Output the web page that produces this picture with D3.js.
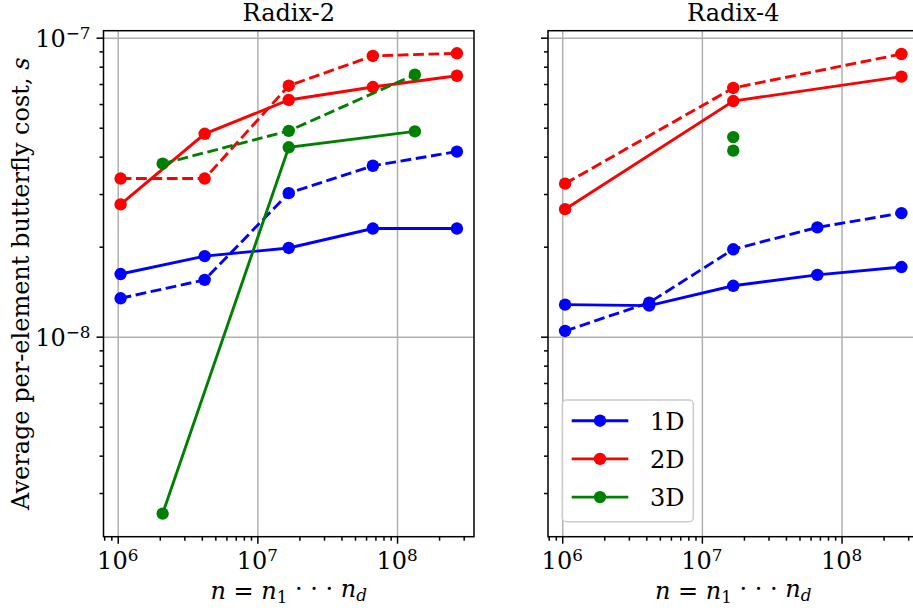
<!DOCTYPE html>
<html>
<head>
<meta charset="utf-8">
<script src="https://cdn.jsdelivr.net/npm/d3@7"></script>
<style>
  body { margin: 0; background: #fff; }
</style>
</head>
<body>
<div id="chart"></div>
<script>
// problem sizes (x axis)
var sizes = [Math.pow(2, 20), Math.pow(2, 22), Math.pow(2, 24), Math.pow(2, 26), Math.pow(2, 28)];
var sizes3d = [Math.pow(2, 21), Math.pow(2, 24), Math.pow(2, 27)];
var sizesR4 = [Math.pow(2, 20), Math.pow(2, 24), Math.pow(2, 28)];
var sizesR4_3d = [Math.pow(2, 24)];

// Radix-2 values (seconds)
var r2_1d_solid = [1.62e-8, 1.86e-8, 1.98e-8, 2.30e-8, 2.30e-8];
var r2_1d_dashed = [1.344e-8, 1.549e-8, 3.02e-8, 3.73e-8, 4.16e-8];
var r2_2d_solid = [2.77e-8, 4.77e-8, 6.19e-8, 6.84e-8, 7.46e-8];
var r2_2d_dashed = [3.38e-8, 3.38e-8, 6.91e-8, 8.69e-8, 8.87e-8];
var r2_3d_solid = [2.56e-9, 4.30e-8, 4.86e-8];
var r2_3d_dashed = [3.79e-8, 4.88e-8, 7.52e-8];

// Radix-4 values (seconds)
var r4_1d_solid = [1.28e-8, 1.27e-8, 1.48e-8, 1.61e-8, 1.71e-8];
var r4_1d_dashed = [1.045e-8, 1.30e-8, 1.96e-8, 2.32e-8, 2.59e-8];
var r4_2d_solid = [2.67e-8, 6.14e-8, 7.41e-8];
var r4_2d_dashed = [3.25e-8, 6.79e-8, 8.82e-8];
var r4_3d_solid = [4.19e-8];
var r4_3d_dashed = [4.65e-8];

var dims = ["1D", "2D", "3D"];
var colors = {"1D": "#0000ff", "2D": "#ff0000", "3D": "#008000"};

var xTickExp = [6, 7, 8];
var yTickExp = [-7, -8];

var panels = [
  {title: "Radix-2", left: 103.5, showY: true, legend: false, series: [
    {dim: "1D", dashed: false, x: sizes, y: r2_1d_solid},
    {dim: "1D", dashed: true, x: sizes, y: r2_1d_dashed},
    {dim: "2D", dashed: false, x: sizes, y: r2_2d_solid},
    {dim: "2D", dashed: true, x: sizes, y: r2_2d_dashed},
    {dim: "3D", dashed: false, x: sizes3d, y: r2_3d_solid},
    {dim: "3D", dashed: true, x: sizes3d, y: r2_3d_dashed}
  ]},
  {title: "Radix-4", left: 548, showY: false, legend: true, series: [
    {dim: "1D", dashed: false, x: sizes, y: r4_1d_solid},
    {dim: "1D", dashed: true, x: sizes, y: r4_1d_dashed},
    {dim: "2D", dashed: false, x: sizesR4, y: r4_2d_solid},
    {dim: "2D", dashed: true, x: sizesR4, y: r4_2d_dashed},
    {dim: "3D", dashed: false, x: sizesR4_3d, y: r4_3d_solid},
    {dim: "3D", dashed: true, x: sizesR4_3d, y: r4_3d_dashed}
  ]}
];

var W = 913, H = 613;
var marginTop = 30.7, plotW = 370.5, plotH = 506;
var fs = 24;
var serif = "'DejaVu Serif', 'Liberation Serif', serif";

var xScale = d3.scaleLog().domain([7.91e5, 3.557e8]).range([0, plotW]);
var yScale = d3.scaleLog().domain([Math.pow(10, -8.669), Math.pow(10, -6.9766)]).range([plotH, 0]);

// minor ticks inside the domains
var xMinor = [], yMinor = [];
[5, 6, 7, 8].forEach(function(e) {
  for (var k = 2; k < 10; k++) {
    var v = k * Math.pow(10, e);
    if (v >= xScale.domain()[0] && v <= xScale.domain()[1]) xMinor.push(v);
  }
});
[-9, -8, -7].forEach(function(e) {
  for (var k = 2; k < 10; k++) {
    var v = k * Math.pow(10, e);
    if (v >= yScale.domain()[0] && v <= yScale.domain()[1]) yMinor.push(v);
  }
});

var svg = d3.select("#chart").append("svg")
  .attr("width", W).attr("height", H)
  .style("font-family", serif);
svg.append("rect").attr("width", W).attr("height", H).attr("fill", "#fff");

var defs = svg.append("defs");
defs.append("clipPath").attr("id", "clip")
  .append("rect").attr("width", plotW).attr("height", plotH);

var line = d3.line()
  .x(function(d) { return xScale(d[0]); })
  .y(function(d) { return yScale(d[1]); });

function label(sel) {
  return sel.style("font-family", serif).style("font-size", fs + "px").attr("fill", "#000");
}

panels.forEach(function(p) {
  var g = svg.append("g").attr("transform", "translate(" + p.left + "," + marginTop + ")");

  // grid
  g.append("g").attr("class", "grid")
    .attr("transform", "translate(0," + plotH + ")")
    .call(d3.axisBottom(xScale).tickValues(xTickExp.map(function(e) { return Math.pow(10, e); }))
      .tickSize(-plotH).tickFormat(""))
    .call(function(s) { s.select(".domain").remove(); s.selectAll("line").attr("stroke", "#b0b0b0").attr("stroke-width", 1.5); });
  g.append("g").attr("class", "grid")
    .call(d3.axisLeft(yScale).tickValues(yTickExp.map(function(e) { return Math.pow(10, e); }))
      .tickSize(-plotW).tickFormat(""))
    .call(function(s) { s.select(".domain").remove(); s.selectAll("line").attr("stroke", "#b0b0b0").attr("stroke-width", 1.5); });

  // data
  var dg = g.append("g").attr("clip-path", "url(#clip)");
  p.series.forEach(function(s) {
    var pts = s.x.map(function(v, i) { return [v, s.y[i]]; });
    if (pts.length > 1) {
      dg.append("path").datum(pts)
        .attr("d", line)
        .attr("fill", "none")
        .attr("stroke", colors[s.dim])
        .attr("stroke-width", 2.9)
        .attr("stroke-dasharray", s.dashed ? "10.8,4.6" : null);
    }
    dg.selectAll(null).data(pts).enter().append("circle")
      .attr("cx", function(d) { return xScale(d[0]); })
      .attr("cy", function(d) { return yScale(d[1]); })
      .attr("r", 6.2)
      .attr("fill", colors[s.dim]);
  });

  // axes: major + minor ticks
  var axG = g.append("g").attr("class", "axes");
  var xAxisG = axG.append("g").attr("transform", "translate(0," + plotH + ")");
  xAxisG.append("g").call(d3.axisBottom(xScale).tickValues(xMinor).tickSize(4).tickFormat(""));
  xAxisG.append("g").call(d3.axisBottom(xScale).tickValues(xTickExp.map(function(e) { return Math.pow(10, e); })).tickSize(7).tickFormat(""));
  var yAxisG = axG.append("g");
  yAxisG.append("g").call(d3.axisLeft(yScale).tickValues(yMinor).tickSize(4).tickFormat(""));
  yAxisG.append("g").call(d3.axisLeft(yScale).tickValues(yTickExp.map(function(e) { return Math.pow(10, e); })).tickSize(7).tickFormat(""));
  axG.selectAll(".domain").remove();
  axG.selectAll(".tick line").attr("stroke", "#000").attr("stroke-width", 1.5);

  // frame
  g.append("rect").attr("width", plotW).attr("height", plotH)
    .attr("fill", "none").attr("stroke", "#000").attr("stroke-width", 1.5);

  // x tick labels
  xTickExp.forEach(function(e) {
    var t = g.append("text")
      .attr("x", xScale(Math.pow(10, e)))
      .attr("y", plotH + 32)
      .attr("text-anchor", "middle")
      .call(label);
    t.append("tspan").text("10");
    t.append("tspan").attr("dy", "-0.45em").style("font-size", (fs * 0.7) + "px").text(e);
  });

  // y tick labels
  if (p.showY) {
    yTickExp.forEach(function(e) {
      var t = g.append("text")
        .attr("x", -13)
        .attr("y", yScale(Math.pow(10, e)) + 9)
        .attr("text-anchor", "end")
        .call(label);
      t.append("tspan").text("10");
      t.append("tspan").attr("dy", "-0.45em").style("font-size", (fs * 0.7) + "px").text("\u2212" + (-e));
    });
    g.append("text")
      .attr("transform", "translate(" + (28.5 - p.left) + "," + (plotH / 2) + ") rotate(-90)")
      .attr("text-anchor", "middle")
      .call(label)
      .call(function(t) {
        t.append("tspan").text("Average per-element butterfly cost, ");
        t.append("tspan").style("font-style", "italic").text("s");
      });
  }

  // title
  g.append("text")
    .attr("x", plotW / 2).attr("y", -10)
    .attr("text-anchor", "middle")
    .call(label)
    .text(p.title);

  // x label
  var xl = g.append("text")
    .attr("x", plotW / 2).attr("y", plotH + 62)
    .attr("text-anchor", "middle")
    .call(label);
  xl.append("tspan").style("font-style", "italic").text("n");
  xl.append("tspan").text(" = ");
  xl.append("tspan").style("font-style", "italic").text("n");
  xl.append("tspan").attr("dy", "0.25em").style("font-size", (fs * 0.7) + "px").text("1");
  xl.append("tspan").attr("dy", "-0.25em").text(" \u00b7 \u00b7 \u00b7 ");
  xl.append("tspan").style("font-style", "italic").text("n");
  xl.append("tspan").attr("dy", "0.25em").style("font-size", (fs * 0.7) + "px").style("font-style", "italic").text("d");

  // legend
  if (p.legend) {
    var lg = g.append("g").attr("transform", "translate(" + (562.3 - p.left) + "," + (400 - marginTop) + ")");
    lg.append("rect").attr("width", 131).attr("height", 121.7).attr("rx", 4)
      .attr("fill", "#fff").attr("fill-opacity", 0.8)
      .attr("stroke", "#cccccc").attr("stroke-width", 1.5);
    dims.forEach(function(d, i) {
      var cy = 20.7 + i * 38.2;
      lg.append("line").attr("x1", 9.4).attr("x2", 66).attr("y1", cy).attr("y2", cy)
        .attr("stroke", colors[d]).attr("stroke-width", 2.9);
      lg.append("circle").attr("cx", 37.7).attr("cy", cy).attr("r", 6.2).attr("fill", colors[d]);
      lg.append("text").attr("x", 87.7).attr("y", cy + 9)
        .call(label).text(d);
    });
  }
});
</script>
</body>
</html>
